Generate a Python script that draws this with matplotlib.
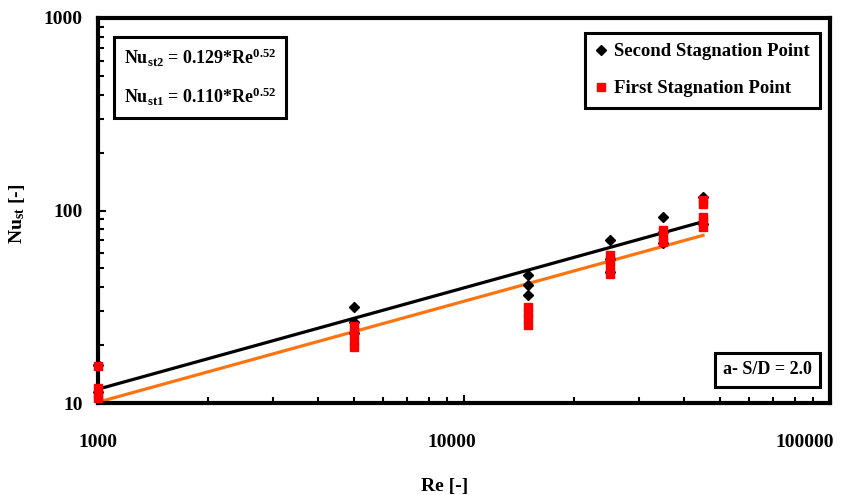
import matplotlib
matplotlib.use('Agg')
import matplotlib.pyplot as plt
import matplotlib.transforms as mtransforms
from matplotlib.lines import Line2D

plt.rcParams['font.family'] = 'Liberation Serif'
plt.rcParams['font.weight'] = 'bold'
plt.rcParams['mathtext.fontset'] = 'custom'
plt.rcParams['mathtext.rm'] = 'Liberation Serif:bold'
plt.rcParams['mathtext.bf'] = 'Liberation Serif:bold'
plt.rcParams['mathtext.it'] = 'Liberation Serif:italic:bold'

# second stagnation point, measured Nu
re_second = [1000, 1000, 5000, 5000, 5000, 15000, 15000, 15000,
             25000, 25000, 25000, 35000, 35000, 35000, 45000, 45000]
nu_second = [15.8, 11.4, 31.4, 26.5, 23.0, 46.1, 40.8, 36.3,
             70.6, 56.0, 48.0, 93.0, 77.5, 68.0, 118.0, 85.0]

# first stagnation point, measured Nu
re_first = [1000, 1000, 1000, 1000, 5000, 5000, 5000, 5000,
            15000, 15000, 15000, 15000, 25000, 25000, 25000, 25000,
            35000, 35000, 35000, 45000, 45000, 45000, 45000, 45000]
nu_first = [15.5, 12.0, 11.2, 10.6, 25.0, 23.0, 21.0, 19.5,
            31.5, 29.5, 27.5, 25.5, 59.0, 55.0, 51.0, 47.0,
            79.0, 74.0, 69.0, 114.0, 108.0, 93.0, 87.0, 82.0]

# power-law fits (end points of each line)
fit_re = [1000, 45000]
fit_nu2 = [11.8, 87.5]
fit_nu1 = [10.1, 74.3]

x_ticks = [1000, 10000, 100000]
y_ticks = [10, 100, 1000]

fig = plt.figure(figsize=(8.67, 4.95), dpi=100)
ax = fig.add_axes([98 / 867, 92 / 495, 732 / 867, 385 / 495])

ax.plot(fit_re, fit_nu2, color='black', lw=2.3, zorder=2)
ax.plot(fit_re, fit_nu1, color='#ff7410', lw=2.3, zorder=2)
ax.plot(re_second, nu_second, 'D', color='black', ms=5.5, ls='none',
        zorder=3, clip_on=False)
ax.plot(re_first, nu_first, 's', color='#ff0000', ms=5.5, ls='none',
        zorder=4, clip_on=False)

ax.set_xscale('log')
ax.set_yscale('log')
ax.set_xlim(1000, 100000)
ax.set_ylim(10, 1000)
ax.set_xticks(x_ticks)
ax.set_xticklabels([str(t) for t in x_ticks])
ax.set_yticks(y_ticks)
ax.set_yticklabels([str(t) for t in y_ticks])

for sp in ax.spines.values():
    sp.set_linewidth(3)
ax.tick_params(which='both', direction='in', top=False, right=False, width=1.5)
ax.tick_params(which='major', length=6)
ax.tick_params(which='minor', length=4)
ax.tick_params(axis='x', which='both', labelsize=14, pad=22)
ax.tick_params(axis='y', which='both', labelsize=14, pad=11)
ax.yaxis.set_minor_formatter(plt.NullFormatter())
ax.xaxis.set_minor_formatter(plt.NullFormatter())

ax.set_xlabel('Re [-]', fontsize=14, fontweight='bold')
ax.xaxis.set_label_coords((445 - 98) / 732, -0.195)
ax.set_ylabel(r'$\mathbf{Nu_{st}}$ [-]', fontsize=14, fontweight='bold')
ax.yaxis.set_label_coords(-0.097, 0.49)

ax.text(0.035, 0.926,
        'Nu$_{\\mathbf{st2}}$ = 0.129*Re$^{\\mathbf{0.52}}$\n'
        'Nu$_{\\mathbf{st1}}$ = 0.110*Re$^{\\mathbf{0.52}}$',
        transform=ax.transAxes, ha='left', va='top', fontsize=13,
        fontweight='bold', linespacing=2.0,
        bbox=dict(boxstyle='square,pad=0.55', fc='white', ec='black', lw=2.2))

ax.text(0.915, 0.086, 'a- S/D = 2.0', transform=ax.transAxes,
        ha='center', va='center', fontsize=13, fontweight='bold',
        bbox=dict(boxstyle='square,pad=0.45', fc='white', ec='black', lw=2.2))

handles = [Line2D([], [], marker='D', color='black', ls='none', ms=5.5),
           Line2D([], [], marker='s', color='#ff0000', ls='none', ms=5.5)]
leg = ax.legend(handles, ['Second Stagnation Point', 'First Stagnation Point'],
                loc='upper right', bbox_to_anchor=(0.986, 0.961),
                borderaxespad=0, fontsize=13.5, handlelength=0.6,
                handletextpad=0.4, labelspacing=1.05, borderpad=0.55,
                fancybox=False, framealpha=1, edgecolor='black')
leg.get_frame().set_linewidth(2.2)
for t in leg.get_texts():
    t.set_fontweight('bold')

# shift the x tick labels slightly left
fig.canvas.draw()
for lab, dx in zip(ax.xaxis.get_majorticklabels(), [0, -12, -25]):
    lab.set_transform(lab.get_transform() +
                      mtransforms.ScaledTranslation(dx / 100, 0, fig.dpi_scale_trans))

fig.savefig('out.png', dpi=100)
